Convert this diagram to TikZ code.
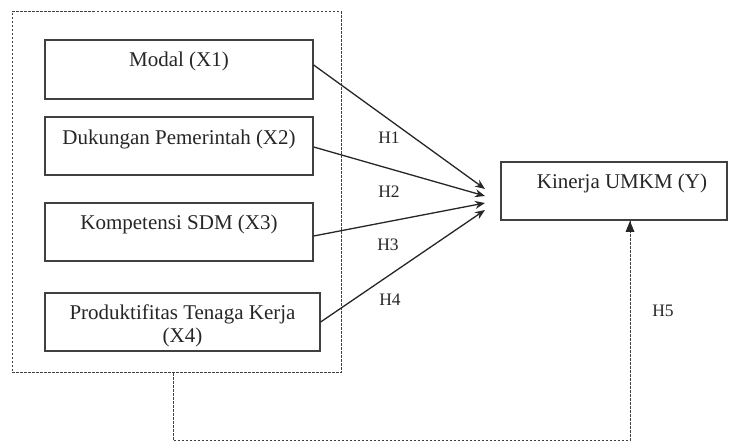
\documentclass[tikz,border=0pt]{standalone}
\usepackage{fontspec}
\setmainfont{Liberation Serif}
\usetikzlibrary{arrows.meta}
\begin{document}
\begin{tikzpicture}[x=1pt,y=-1pt,
  varbox/.style={draw=black!75, line width=1.3pt, rectangle, inner sep=0pt},
  lbl/.style={font=\fontsize{21}{23.5}\selectfont, text=black!85, inner sep=0pt},
  hyp/.style={font=\fontsize{17.5}{20}\selectfont, text=black!85, inner sep=0pt},
  link/.style={draw=black!85, line width=1.3pt, -{Stealth[length=10pt,width=8pt]}},
  dashln/.style={draw=black!75, line width=1pt, dash pattern=on 2.5pt off 1.5pt}]
\useasboundingbox (0,0) rectangle (732,443);
% outer dashed group box
\node[dashln, rectangle, minimum width=329pt, minimum height=361pt, inner sep=0pt] (grp) at (176.5,192.5) {};
% variable boxes
\node[varbox, minimum width=268pt, minimum height=59pt] (x1) at (179,69.5) {};
\node[varbox, minimum width=268pt, minimum height=58pt] (x2) at (179,146) {};
\node[varbox, minimum width=268pt, minimum height=58pt] (x3) at (179,232) {};
\node[varbox, minimum width=275pt, minimum height=58pt] (x4) at (182.5,322) {};
\node[varbox, minimum width=226pt, minimum height=58pt] (y) at (614,191) {};
% texts
\node[lbl] (t1) at (179,61) {Modal (X1)};
\node[lbl] (t2) at (179,139) {Dukungan Pemerintah (X2)};
\node[lbl] (t3) at (179,224) {Kompetensi SDM (X3)};
\node[lbl, align=center] (t4) at (182.5,326) {Produktifitas Tenaga Kerja\\(X4)};
\node[lbl] (ty) at (622,183) {Kinerja UMKM (Y)};
% hypothesis labels
\node[hyp] (h1) at (389,138) {H1};
\node[hyp] (h2) at (389,192) {H2};
\node[hyp] (h3) at (388,245) {H3};
\node[hyp] (h4) at (390,300) {H4};
\node[hyp] (h5) at (663,311) {H5};
% arrow end coordinates
\coordinate (e1) at (485,189);
\coordinate (e2) at (485,196);
\coordinate (e3) at (485,203);
\coordinate (e4) at (485,210);
\draw[link] (x1.east |- 0,65) -- (e1);
\draw[link] (x2.east |- 0,147) -- (e2);
\draw[link] (x3.east |- 0,236) -- (e3);
\draw[link] (x4.east |- 0,322) -- (e4);
% dashed connection from group to Y
\coordinate (c1) at (173,441);
\coordinate (c2) at (630,441);
\draw[dashln] (grp.south -| 173,0) -- (c1) -- (c2);
\draw[dashln] (c2) -- (y.south -| 630,0);
\draw[draw=none, fill=black!85] (630,221) -- (625.5,232) -- (634.5,232) -- cycle;
\end{tikzpicture}
\end{document}
